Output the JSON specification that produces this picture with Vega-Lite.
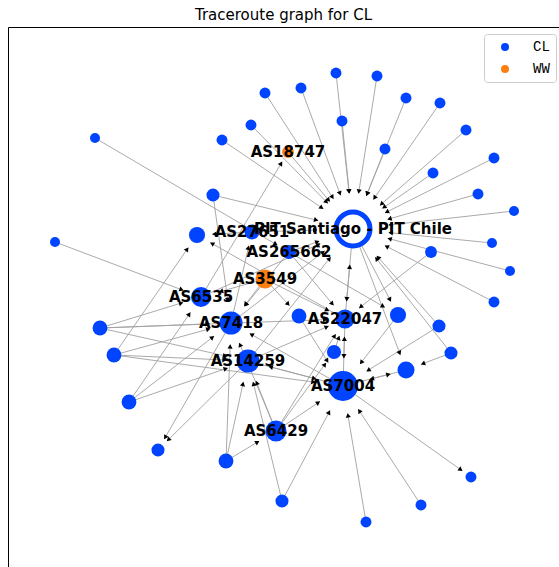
{
  "$schema": "https://vega.github.io/schema/vega-lite/v6.json",
  "autosize": {"type": "none"},
  "padding": {"left": 8, "top": 27, "right": 0, "bottom": 0},
  "width": 551,
  "height": 540,
  "title": {"text": "Traceroute graph for CL", "font": "DejaVu Sans", "fontSize": 15, "fontWeight": "normal", "color": "black", "anchor": "middle", "offset": 8, "baseline": "alphabetic", "dy": 16},
  "config": {"view": {"stroke": "black", "strokeWidth": 1}},
  "datasets": {
    "nodes": [
      {"id": "H", "x": 345, "y": 338, "w": 152, "c": "CL", "label": "PIT Santiago - PIT Chile", "kind": "ix"},
      {"id": "A7004", "x": 335, "y": 181, "w": 90, "c": "CL", "label": "AS7004", "kind": "as"},
      {"id": "A7418", "x": 223, "y": 244, "w": 53, "c": "CL", "label": "AS7418", "kind": "as"},
      {"id": "A14259", "x": 240, "y": 206, "w": 53, "c": "CL", "label": "AS14259", "kind": "as"},
      {"id": "A6429", "x": 268, "y": 136, "w": 44, "c": "CL", "label": "AS6429", "kind": "as"},
      {"id": "A6535", "x": 193, "y": 270, "w": 40, "c": "CL", "label": "AS6535", "kind": "as"},
      {"id": "A22047", "x": 337, "y": 248, "w": 36, "c": "CL", "label": "AS22047", "kind": "as"},
      {"id": "A3549", "x": 257, "y": 288, "w": 36, "c": "WW", "label": "AS3549", "kind": "as"},
      {"id": "A265662", "x": 281, "y": 315, "w": 20, "c": "CL", "label": "AS265662", "kind": "as"},
      {"id": "A27651", "x": 244, "y": 335, "w": 22, "c": "CL", "label": "AS27651", "kind": "as"},
      {"id": "A18747", "x": 280, "y": 415, "w": 14, "c": "WW", "label": "AS18747", "kind": "as"},
      {"id": "n1", "x": 328, "y": 494, "w": 12, "c": "CL", "label": "", "kind": "as"},
      {"id": "n2", "x": 369, "y": 491, "w": 12, "c": "CL", "label": "", "kind": "as"},
      {"id": "n3", "x": 293, "y": 479, "w": 12, "c": "CL", "label": "", "kind": "as"},
      {"id": "n4", "x": 334, "y": 446, "w": 12, "c": "CL", "label": "", "kind": "as"},
      {"id": "n5", "x": 398, "y": 469, "w": 12, "c": "CL", "label": "", "kind": "as"},
      {"id": "n6", "x": 432, "y": 464, "w": 12, "c": "CL", "label": "", "kind": "as"},
      {"id": "n7", "x": 377, "y": 418, "w": 12, "c": "CL", "label": "", "kind": "as"},
      {"id": "n8", "x": 458, "y": 437, "w": 12, "c": "CL", "label": "", "kind": "as"},
      {"id": "n9", "x": 486, "y": 409, "w": 12, "c": "CL", "label": "", "kind": "as"},
      {"id": "n10", "x": 425, "y": 394, "w": 12, "c": "CL", "label": "", "kind": "as"},
      {"id": "n11", "x": 470, "y": 373, "w": 12, "c": "CL", "label": "", "kind": "as"},
      {"id": "n12", "x": 506, "y": 356, "w": 10, "c": "CL", "label": "", "kind": "as"},
      {"id": "n13", "x": 484, "y": 324, "w": 10, "c": "CL", "label": "", "kind": "as"},
      {"id": "n14", "x": 423, "y": 315, "w": 14, "c": "CL", "label": "", "kind": "as"},
      {"id": "n15", "x": 502, "y": 296, "w": 10, "c": "CL", "label": "", "kind": "as"},
      {"id": "n16", "x": 486, "y": 265, "w": 12, "c": "CL", "label": "", "kind": "as"},
      {"id": "n17", "x": 257, "y": 474, "w": 12, "c": "CL", "label": "", "kind": "as"},
      {"id": "n18", "x": 243, "y": 442, "w": 12, "c": "CL", "label": "", "kind": "as"},
      {"id": "n19", "x": 214, "y": 427, "w": 12, "c": "CL", "label": "", "kind": "as"},
      {"id": "n20", "x": 87, "y": 429, "w": 10, "c": "CL", "label": "", "kind": "as"},
      {"id": "n21", "x": 205, "y": 372, "w": 17, "c": "CL", "label": "", "kind": "as"},
      {"id": "n22", "x": 189, "y": 332, "w": 26, "c": "CL", "label": "", "kind": "as"},
      {"id": "n23", "x": 47, "y": 325, "w": 10, "c": "CL", "label": "", "kind": "as"},
      {"id": "n24", "x": 291, "y": 251, "w": 22, "c": "CL", "label": "", "kind": "as"},
      {"id": "n25", "x": 390, "y": 252, "w": 26, "c": "CL", "label": "", "kind": "as"},
      {"id": "n26", "x": 431, "y": 241, "w": 17, "c": "CL", "label": "", "kind": "as"},
      {"id": "n27", "x": 443, "y": 214, "w": 17, "c": "CL", "label": "", "kind": "as"},
      {"id": "n28", "x": 398, "y": 197, "w": 29, "c": "CL", "label": "", "kind": "as"},
      {"id": "n29", "x": 326, "y": 215, "w": 20, "c": "CL", "label": "", "kind": "as"},
      {"id": "n30", "x": 92, "y": 239, "w": 22, "c": "CL", "label": "", "kind": "as"},
      {"id": "n31", "x": 106, "y": 212, "w": 22, "c": "CL", "label": "", "kind": "as"},
      {"id": "n32", "x": 121, "y": 165, "w": 22, "c": "CL", "label": "", "kind": "as"},
      {"id": "n33", "x": 150, "y": 117, "w": 17, "c": "CL", "label": "", "kind": "as"},
      {"id": "n34", "x": 218, "y": 106, "w": 22, "c": "CL", "label": "", "kind": "as"},
      {"id": "n35", "x": 274, "y": 66, "w": 17, "c": "CL", "label": "", "kind": "as"},
      {"id": "n36", "x": 463, "y": 90, "w": 12, "c": "CL", "label": "", "kind": "as"},
      {"id": "n37", "x": 413, "y": 62, "w": 12, "c": "CL", "label": "", "kind": "as"},
      {"id": "n38", "x": 358, "y": 45, "w": 12, "c": "CL", "label": "", "kind": "as"}
    ],
    "edges": [
      {"s": "n1", "t": "H"}, {"s": "n2", "t": "H"}, {"s": "n3", "t": "H"}, {"s": "n4", "t": "H"},
      {"s": "n5", "t": "H"}, {"s": "n6", "t": "H"}, {"s": "n7", "t": "H"}, {"s": "n8", "t": "H"},
      {"s": "n9", "t": "H"}, {"s": "n10", "t": "H"}, {"s": "n11", "t": "H"}, {"s": "n12", "t": "H"},
      {"s": "n13", "t": "H"}, {"s": "n15", "t": "H"}, {"s": "n16", "t": "H"}, {"s": "n17", "t": "H"},
      {"s": "n18", "t": "H"}, {"s": "n19", "t": "H"}, {"s": "n26", "t": "H"}, {"s": "n27", "t": "H"},
      {"s": "n21", "t": "H"}, {"s": "A18747", "t": "H"}, {"s": "A265662", "t": "H"}, {"s": "A27651", "t": "H"},
      {"s": "A22047", "t": "H"}, {"s": "H", "t": "A22047"}, {"s": "A7418", "t": "H"}, {"s": "A6535", "t": "H"},
      {"s": "A14259", "t": "H"}, {"s": "H", "t": "n25"}, {"s": "H", "t": "n28"},
      {"s": "n14", "t": "A22047"}, {"s": "n20", "t": "A265662"}, {"s": "n21", "t": "A7418"},
      {"s": "A27651", "t": "n22"}, {"s": "n31", "t": "n22"}, {"s": "A22047", "t": "n22"},
      {"s": "n23", "t": "A6535"}, {"s": "A3549", "t": "n24"}, {"s": "n24", "t": "A7004"},
      {"s": "A265662", "t": "n25"}, {"s": "n25", "t": "A7004"}, {"s": "n26", "t": "A7004"},
      {"s": "n27", "t": "n28"}, {"s": "A7004", "t": "n28"}, {"s": "n28", "t": "A7004"},
      {"s": "A6429", "t": "n29"}, {"s": "n29", "t": "A22047"},
      {"s": "n30", "t": "A7418"}, {"s": "n30", "t": "A14259"}, {"s": "n30", "t": "A6535"}, {"s": "n30", "t": "A22047"},
      {"s": "n31", "t": "A7418"}, {"s": "n31", "t": "A14259"}, {"s": "n31", "t": "A7004"},
      {"s": "n32", "t": "A6535"}, {"s": "n32", "t": "A7418"}, {"s": "n32", "t": "A14259"},
      {"s": "A14259", "t": "n33"}, {"s": "A7418", "t": "n33"},
      {"s": "n34", "t": "A14259"}, {"s": "n34", "t": "A6429"}, {"s": "n34", "t": "A7418"},
      {"s": "n35", "t": "A7004"}, {"s": "n35", "t": "A14259"},
      {"s": "A7004", "t": "n36"}, {"s": "n37", "t": "A7004"}, {"s": "n38", "t": "A7004"},
      {"s": "A6429", "t": "A7004"}, {"s": "A6429", "t": "A14259"}, {"s": "A6429", "t": "A7418"}, {"s": "A6429", "t": "A22047"},
      {"s": "A7004", "t": "A7418"}, {"s": "A7004", "t": "A14259"}, {"s": "A14259", "t": "A7004"},
      {"s": "A22047", "t": "A7004"}, {"s": "A7004", "t": "A22047"},
      {"s": "A3549", "t": "A6535"}, {"s": "A3549", "t": "A7418"}, {"s": "A3549", "t": "A22047"},
      {"s": "A265662", "t": "A22047"}, {"s": "A265662", "t": "A7418"},
      {"s": "A6535", "t": "A18747"}, {"s": "A7418", "t": "A27651"}, {"s": "A14259", "t": "A22047"}
    ]
  },
  "layer": [
    {
      "data": {"name": "edges"},
      "transform": [
        {"lookup": "s", "from": {"data": {"name": "nodes"}, "key": "id", "fields": ["x", "y"]}, "as": ["sx", "sy"]},
        {"lookup": "t", "from": {"data": {"name": "nodes"}, "key": "id", "fields": ["x", "y", "w"]}, "as": ["tx", "ty", "tw"]},
        {"calculate": "datum.tx - datum.sx", "as": "dx"},
        {"calculate": "datum.ty - datum.sy", "as": "dy"},
        {"calculate": "sqrt(datum.dx * datum.dx + datum.dy * datum.dy)", "as": "len"},
        {"calculate": "1.8 * sqrt(10 * datum.tw) / 2 + 1", "as": "d"},
        {"calculate": "datum.tx - datum.dx / datum.len * datum.d", "as": "ex"},
        {"calculate": "datum.ty - datum.dy / datum.len * datum.d", "as": "ey"},
        {"calculate": "datum.tx - datum.dx / datum.len * (datum.d + 2.5)", "as": "ax"},
        {"calculate": "datum.ty - datum.dy / datum.len * (datum.d + 2.5)", "as": "ay"},
        {"calculate": "atan2(datum.dx, datum.dy) * 180 / PI", "as": "ang"}
      ],
      "layer": [
        {
          "mark": {"type": "rule", "color": "#a0a0a0", "strokeWidth": 0.9},
          "encoding": {
            "x": {"field": "sx", "type": "quantitative", "scale": {"domain": [0, 551], "nice": false, "zero": false}, "axis": null},
            "y": {"field": "sy", "type": "quantitative", "scale": {"domain": [0, 540], "nice": false, "zero": false}, "axis": null},
            "x2": {"field": "ex"},
            "y2": {"field": "ey"}
          }
        },
        {
          "mark": {"type": "point", "shape": "triangle", "filled": true, "color": "black", "size": 26, "opacity": 1},
          "encoding": {
            "x": {"field": "ax", "type": "quantitative", "scale": {"domain": [0, 551], "nice": false, "zero": false}, "axis": null},
            "y": {"field": "ay", "type": "quantitative", "scale": {"domain": [0, 540], "nice": false, "zero": false}, "axis": null},
            "angle": {"field": "ang", "type": "quantitative", "scale": null}
          }
        }
      ]
    },
    {
      "data": {"name": "nodes"},
      "layer": [
        {
          "transform": [{"filter": "datum.kind != 'ix'"}],
          "mark": {"type": "point", "shape": "circle", "filled": true, "opacity": 1},
          "encoding": {
            "x": {"field": "x", "type": "quantitative", "scale": {"domain": [0, 551], "nice": false, "zero": false}, "axis": null},
            "y": {"field": "y", "type": "quantitative", "scale": {"domain": [0, 540], "nice": false, "zero": false}, "axis": null},
            "size": {"field": "w", "type": "quantitative", "scale": {"type": "linear", "domain": [0, 100], "range": [0, 1000], "zero": true}, "legend": null},
            "color": {
              "field": "c", "type": "nominal",
              "scale": {"domain": ["CL", "WW"], "range": ["#0044ff", "#ff7f0e"]},
              "legend": {
                "title": null, "orient": "none", "legendX": 476, "legendY": 7,
                "labelFont": "Liberation Mono", "labelFontSize": 14, "labelColor": "black",
                "symbolSize": 64, "symbolType": "circle", "symbolStrokeWidth": 0,
                "fillColor": "white", "strokeColor": "#cccccc", "cornerRadius": 3,
                "padding": 6, "symbolOffset": 8, "labelOffset": 21, "rowPadding": 8
              }
            }
          }
        },
        {
          "transform": [{"filter": "datum.kind == 'ix'"}],
          "mark": {"type": "point", "shape": "circle", "fill": "white", "stroke": "#0044ff", "strokeWidth": 5, "size": 1156, "opacity": 1},
          "encoding": {
            "x": {"field": "x", "type": "quantitative", "scale": {"domain": [0, 551], "nice": false, "zero": false}, "axis": null},
            "y": {"field": "y", "type": "quantitative", "scale": {"domain": [0, 540], "nice": false, "zero": false}, "axis": null}
          }
        },
        {
          "transform": [{"filter": "datum.label != ''"}],
          "mark": {"type": "text", "font": "DejaVu Sans", "fontWeight": "bold", "fontSize": 15, "color": "black", "align": "center", "baseline": "middle"},
          "encoding": {
            "x": {"field": "x", "type": "quantitative", "scale": {"domain": [0, 551], "nice": false, "zero": false}, "axis": null},
            "y": {"field": "y", "type": "quantitative", "scale": {"domain": [0, 540], "nice": false, "zero": false}, "axis": null},
            "text": {"field": "label"}
          }
        }
      ]
    }
  ]
}
